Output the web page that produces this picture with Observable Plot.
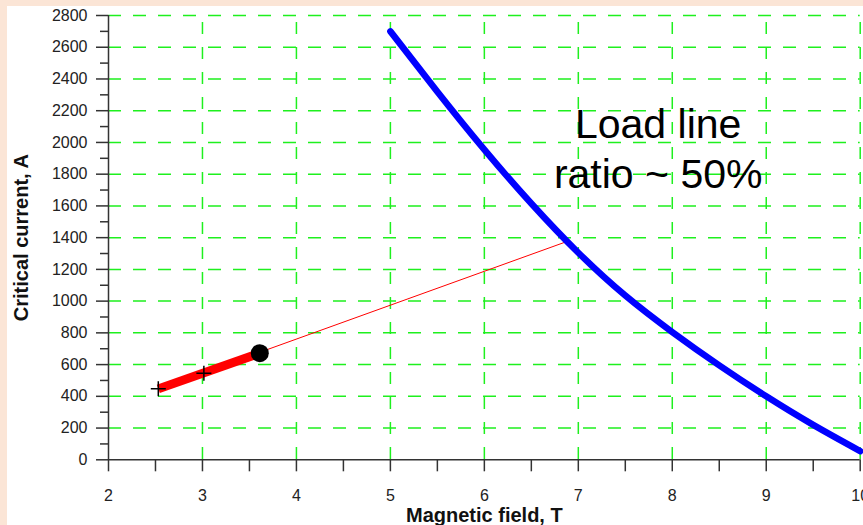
<!DOCTYPE html>
<html><head><meta charset="utf-8">
<script src="https://cdn.jsdelivr.net/npm/d3@7"></script>
<script src="https://cdn.jsdelivr.net/npm/@observablehq/plot@0.6"></script>
<style>
html,body{margin:0;padding:0;background:#fbe5d6;width:863px;height:525px;overflow:hidden}
#chart{position:absolute;left:7px;top:6px;width:856px;height:519px;background:#fff}
</style></head><body><div id="chart"></div>
<script>
// ---- data ----
const xTicks = [2, 3, 4, 5, 6, 7, 8, 9, 10];
const xMinorTicks = [2.5, 3.5, 4.5, 5.5, 6.5, 7.5, 8.5, 9.5];
const yTicks = [0, 200, 400, 600, 800, 1000, 1200, 1400, 1600, 1800, 2000, 2200, 2400, 2600, 2800];
const yMinorTicks = [100, 300, 500, 700, 900, 1100, 1300, 1500, 1700, 1900, 2100, 2300, 2500, 2700];
const gridXTicks = [3, 4, 5, 6, 7, 8, 9, 10];
const gridYTicks = [200, 400, 600, 800, 1000, 1200, 1400, 1600, 1800, 2000, 2200, 2400, 2600, 2800];

// critical current curve Ic(B)
const curveField = [5, 5.5, 6, 6.5, 7, 7.5, 8, 8.5, 9, 9.5, 10];
const curveCurrent = [2700, 2320, 1955, 1615, 1305, 1035, 805, 595, 400, 220, 55];

// load line (thin) and operating range (thick)
const loadField = [2.53, 6.885];
const loadCurrent = [447, 1377];
const operField = [2.53, 3.61];
const operCurrent = [447, 672];
const markerField = [2.53, 3.015];
const markerCurrent = [447, 546];
const pointField = [3.61];
const pointCurrent = [672];

const annotationLines = ["Load line", "ratio ~ 50%"];
const annotationField = [7.85, 7.85];
const annotationCurrent = [2031, 1716];

const xLabel = "Magnetic field, T";
const yLabel = "Critical current, A";

// ---- build tables ----
const zip = (xs, ys) => xs.map((x, i) => ({x, y: ys[i]}));
const curve = zip(curveField, curveCurrent);
const load = zip(loadField, loadCurrent);
const oper = zip(operField, operCurrent);
const markers = zip(markerField, markerCurrent);
const point = zip(pointField, pointCurrent);
const annotations = annotationLines.map((t, i) => ({t, x: annotationField[i], y: annotationCurrent[i]}));

const plusSymbol = {
  draw(ctx, size) {
    const r = Math.sqrt(size / Math.PI);
    ctx.moveTo(-r, 0); ctx.lineTo(r, 0);
    ctx.moveTo(0, -r); ctx.lineTo(0, r);
  }
};

const green = "#1ef01e";
const axisColor = "#333";
const fmt = d => String(d);

const chart = Plot.plot({
  width: 856, height: 519,
  marginLeft: 101, marginRight: 3.3, marginTop: 9, marginBottom: 65.7,
  x: {domain: [2, 10]},
  y: {domain: [0, 2800]},
  style: {fontFamily: "Arial, 'Liberation Sans', sans-serif", fontSize: "16px", background: "#fff", overflow: "visible"},
  marks: [
    Plot.gridY(gridYTicks, {stroke: green, strokeOpacity: 1, strokeWidth: 1.5, strokeDasharray: "13,12"}),
    Plot.gridX(gridXTicks, {stroke: green, strokeOpacity: 1, strokeWidth: 1.5, strokeDasharray: "12,13", strokeDashoffset: 18}),
    Plot.axisY(yTicks, {tickSize: 12, tickPadding: 9, tickFormat: fmt, fontSize: 16, stroke: axisColor, strokeWidth: 1.5, fill: "#222", label: null}),
    Plot.axisY(yMinorTicks, {tickSize: 8, tickFormat: () => "", stroke: axisColor, strokeWidth: 1.5, label: null}),
    Plot.axisX(xTicks, {tickSize: 12, tickPadding: 18, tickFormat: fmt, fontSize: 16, stroke: axisColor, strokeWidth: 1.5, fill: "#222", label: null}),
    Plot.axisX(xMinorTicks, {tickSize: 12, tickFormat: () => "", stroke: axisColor, strokeWidth: 1.5, label: null}),
    Plot.ruleX([2], {stroke: axisColor, strokeWidth: 1.5}),
    Plot.ruleY([0], {stroke: axisColor, strokeWidth: 1.5}),
    Plot.line(load, {x: "x", y: "y", stroke: "#ff0000", strokeWidth: 1}),
    Plot.line(oper, {x: "x", y: "y", stroke: "#ff0000", strokeWidth: 9, strokeLinecap: "butt"}),
    Plot.line(curve, {x: "x", y: "y", stroke: "#0000ff", strokeWidth: 6.5, curve: "natural"}),
    Plot.dot(markers, {x: "x", y: "y", symbol: plusSymbol, r: 7.5, stroke: "#000", strokeWidth: 1.5, fill: "none"}),
    Plot.dot(point, {x: "x", y: "y", r: 9, fill: "#000", stroke: "none"}),
    Plot.text(annotations, {x: "x", y: "y", text: "t", fontSize: 41, lineAnchor: "bottom", textAnchor: "middle", fill: "#000"}),
    Plot.text([xLabel], {frameAnchor: "bottom", lineAnchor: "bottom", textAnchor: "middle", dy: 62.4, fontSize: 20, fontWeight: "bold", fill: "#111"}),
    Plot.text([yLabel], {frameAnchor: "left", lineAnchor: "bottom", textAnchor: "middle", rotate: -90, dx: -81, fontSize: 20, fontWeight: "bold", fill: "#111"})
  ]
});
document.getElementById("chart").appendChild(chart);
</script>
</body></html>
